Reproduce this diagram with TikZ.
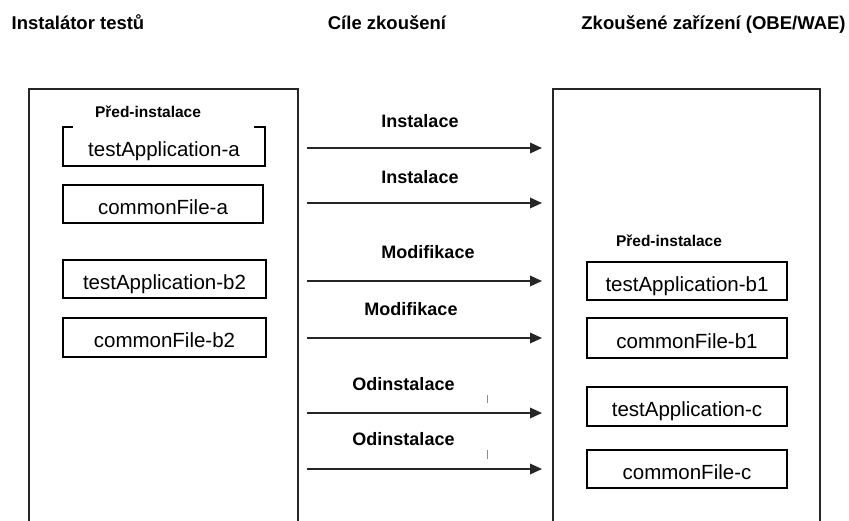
\documentclass[tikz,border=0pt]{standalone}
\usepackage{fontspec}
\setmainfont{Liberation Sans}
\usetikzlibrary{arrows.meta}
\begin{document}
\begin{tikzpicture}[x=1pt,y=-1pt,
  hdr/.style={font=\fontsize{18.5}{20}\selectfont\bfseries, inner sep=0pt, anchor=base},
  lbl/.style={font=\fontsize{18}{20}\selectfont\bfseries, inner sep=0pt, anchor=base},
  pre/.style={font=\fontsize{15.5}{18}\selectfont\bfseries, inner sep=0pt, anchor=base},
  openbox/.style={font=\fontsize{20.5}{22}\selectfont, inner sep=0pt, text height=20.7pt, text depth=0pt, minimum width=#1, minimum height=38.5pt},
  filebox/.style={openbox=#1, draw=black, line width=1.6pt},
  outer/.style={draw=black!85, line width=1.6pt},
  flow/.style={draw=black!85, line width=1.8pt, -{Triangle[length=12pt,width=10.5pt]}},
  tick/.style={draw=cyan!60!blue!70, line width=0.8pt}]
\useasboundingbox (0,0) rectangle (849,520);
% headers
\node[hdr] (h1) at (78,29) {Instalátor testů};
\node[hdr] (h2) at (387,29) {Cíle zkoušení};
\node[hdr] (h3) at (713.5,29) {Zkoušené zařízení (OBE/WAE)};
% outer boxes (open at bottom)
\draw[outer] (29,530) -- (29,89) -- (298,89) -- (298,530);
\draw[outer] (553,530) -- (553,89) -- (820,89) -- (820,530);
% left side
\node[pre] (pl) at (148,117) {Před-instalace};
\node[openbox=202pt] (ta) at (164,146.5) {testApplication-a};
\draw[line width=1.6pt] ([xshift=10pt]ta.north west) -- (ta.north west) -- (ta.south west) -- (ta.south east) -- (ta.north east) -- ([xshift=-11pt]ta.north east);
\node[filebox=200pt] (ca) at (163,204) {commonFile-a};
\node[filebox=203pt] (tb2) at (164.5,279) {testApplication-b2};
\node[filebox=203pt] (cb2) at (164.5,337.5) {commonFile-b2};
% right side
\node[pre] (pr) at (669,246) {Před-instalace};
\node[filebox=200pt] (tb1) at (687,281) {testApplication-b1};
\node[filebox=200pt, minimum height=40pt] (cb1) at (687,338) {commonFile-b1};
\node[filebox=200pt] (tc) at (687,406.5) {testApplication-c};
\node[filebox=200pt] (cc) at (687,469) {commonFile-c};
% arrows
\foreach \n/\y in {1/148,2/203,3/281,4/338,5/413,6/469}{
  \coordinate (s\n) at (307,\y);
  \coordinate (e\n) at (542,\y);
}
\draw[flow] (s1) -- (e1);
\draw[flow] (s2) -- (e2);
\draw[flow] (s3) -- (e3);
\draw[flow] (s4) -- (e4);
\draw[flow] (s5) -- (e5);
\draw[flow] (s6) -- (e6);
\node[lbl] (l1) at (420,127) {Instalace};
\node[lbl] (l2) at (420,183) {Instalace};
\node[lbl] (l3) at (428,258) {Modifikace};
\node[lbl] (l4) at (411,315) {Modifikace};
\node[lbl] (l5) at (403.5,390) {Odinstalace};
\node[lbl] (l6) at (403.5,445) {Odinstalace};
% small blue ticks
\coordinate (t1a) at (487,395); \coordinate (t1b) at (487,403);
\coordinate (t2a) at (487,450); \coordinate (t2b) at (487,459);
\draw[tick] (t1a) -- (t1b);
\draw[tick] (t2a) -- (t2b);
\end{tikzpicture}
\end{document}
